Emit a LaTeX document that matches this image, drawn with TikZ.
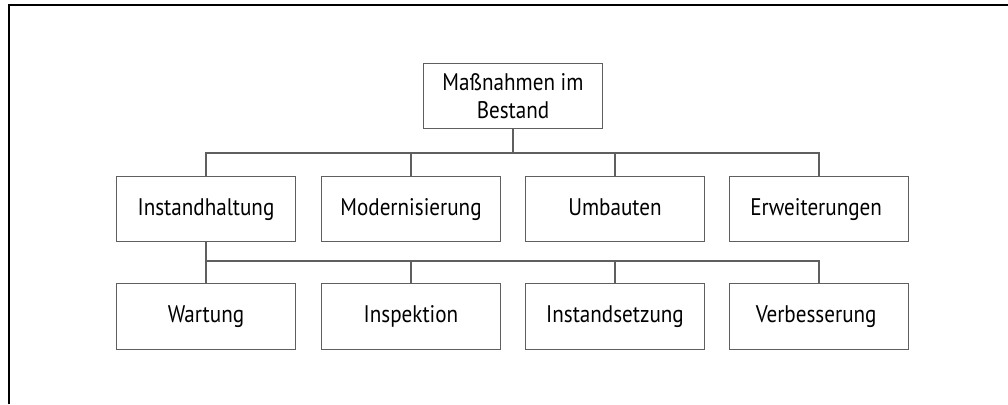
\documentclass[tikz,border=0pt]{standalone}
\usepackage{fontspec}
\setmainfont{PT Sans}[FakeStretch=0.88]
\usepackage{tikz}
\usetikzlibrary{positioning}
\definecolor{linegray}{RGB}{95,95,95}
\tikzset{
  frameline/.style={line width=1.5pt,black},
  conn/.style={-,linegray,line width=0.8pt},
  box/.style={rectangle,draw=linegray,line width=0.8pt,
    minimum width=134pt,minimum height=49pt,inner sep=2pt,
    align=center,font=\fontsize{18}{20.5}\selectfont},
  leaf/.style={box,text height=13pt,text depth=4pt}
}
\begin{document}
\begin{tikzpicture}[x=0.75pt,y=-0.75pt]
  \useasboundingbox (0,0) rectangle (1008,404);
  % frame (only top and left edge)
  \draw[frameline] (9,404) -- (9,5) -- (1008,5);

  \node[box] (bestand) at (513,96) {Maßnahmen im\\Bestand};

  \foreach \x/\name/\txt in {
    206/inst/Instandhaltung,
    411/mod/Modernisierung,
    615/umb/Umbauten,
    819/erw/Erweiterungen
  } {
    \node[leaf] (\name) at (\x,209) {\txt};
  }
  \foreach \x/\name/\txt in {
    206/wart/Wartung,
    411/insp/Inspektion,
    615/setz/Instandsetzung,
    819/verb/Verbesserung
  } {
    \node[leaf] (\name) at (\x,316.5) {\txt};
  }

  \coordinate (bus1) at (0,153);
  \coordinate (bus2) at (0,261);

  % first level
  \draw[conn] (bestand.south) -- (bestand.south |- bus1);
  \draw[conn] (inst.north) -- (inst.north |- bus1) -- (erw.north |- bus1) -- (erw.north);
  \foreach \name in {mod,umb}
    \draw[conn] (\name.north) -- (\name.north |- bus1);

  % second level
  \draw[conn] (inst.south) -- (wart.north);
  \draw[conn] (inst.south |- bus2) -- (verb.north |- bus2) -- (verb.north);
  \foreach \name in {insp,setz}
    \draw[conn] (\name.north) -- (\name.north |- bus2);
\end{tikzpicture}
\end{document}
